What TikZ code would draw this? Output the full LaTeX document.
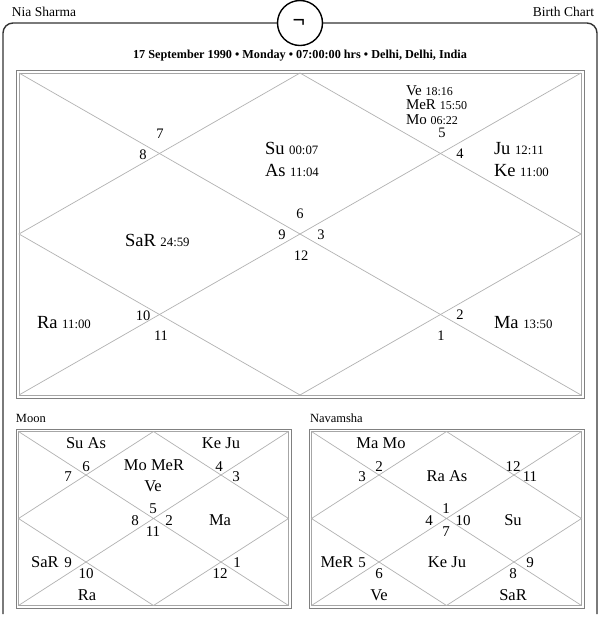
\documentclass[tikz,border=0pt]{standalone}
\usepackage{fontspec}
\setmainfont{Liberation Serif}
\newcommand{\mainpl}[2]{{\fontsize{18.5}{20}\selectfont #1 }{\fontsize{12.8}{14}\selectfont #2}}
\newcommand{\smallpl}[2]{{\fontsize{15}{16}\selectfont #1 }{\fontsize{12}{14}\selectfont #2}}
\begin{document}
\begin{tikzpicture}[x=1pt,y=-1pt,
  every node/.style={inner sep=0pt,outer sep=0pt},
  frameline/.style={draw=black!80,line width=1.4pt,rounded corners=10pt},
  boxout/.style={draw=black!50,line width=0.8pt},
  boxin/.style={draw=black!35,line width=0.8pt},
  chartline/.style={draw=black!30,line width=0.7pt},
  mnum/.style={font=\fontsize{14.5}{16}\selectfont,text height=0.66em,text depth=0pt,anchor=center},
  mpl/.style={anchor=base west},
  lnum/.style={font=\fontsize{15}{16}\selectfont,text height=0.66em,text depth=0pt,anchor=center},
  lpl/.style={font=\fontsize{16.5}{18}\selectfont,text height=0.66em,text depth=0pt,anchor=center},
  ttl/.style={font=\fontsize{13.5}{15}\selectfont,text height=0.66em,text depth=0pt},
  lbl/.style={font=\fontsize{12.5}{14}\selectfont,text height=0.66em,text depth=0pt,anchor=west}
]
\useasboundingbox[fill=white] (0,0) rectangle (600,630);

% outer frame
\draw[frameline] (3,614) -- (3,23) -- (597,23) -- (597,614);
\node[circle,draw=black,line width=1.4pt,fill=white,minimum size=45pt] (logo) at (300,23) {};
\node[font=\fontsize{22}{22}\selectfont\bfseries] (sym) at (299,23) {¬};

\node[ttl,anchor=west] (name) at (12,13) {Nia Sharma};
\node[ttl,anchor=east] (kind) at (594,13) {Birth Chart};
\node[font=\fontsize{12.2}{14}\selectfont\bfseries,text height=0.66em,text depth=0pt] (date) at (300,55)
  {17 September 1990 • Monday • 07:00:00 hrs • Delhi, Delhi, India};

% main chart
\draw[boxout] (16,70) rectangle (584,398);
\draw[boxin] (19,73) rectangle (581,395);
\coordinate (tl) at (19,73); \coordinate (tr) at (581,73);
\coordinate (bl) at (19,395); \coordinate (br) at (581,395);
\coordinate (tm) at (300,73); \coordinate (bm) at (300,395);
\coordinate (lm) at (19,234); \coordinate (rm) at (581,234);
\draw[chartline] (tl) -- (br) (tr) -- (bl);
\draw[chartline] (tm) -- (rm) -- (bm) -- (lm) -- cycle;

\node[mnum] (h7) at (160,135) {7};
\node[mnum] (h8) at (143,156) {8};
\node[mnum] (h5) at (442,134) {5};
\node[mnum] (h4) at (460,155) {4};
\node[mnum] (h6) at (300,215) {6};
\node[mnum] (h9) at (282,236) {9};
\node[mnum] (h3) at (321,236) {3};
\node[mnum] (h12) at (301,257) {12};
\node[mnum] (h10) at (143,317) {10};
\node[mnum] (h11) at (161,337) {11};
\node[mnum] (h2) at (460,316) {2};
\node[mnum] (h1) at (441,337) {1};

\node[mpl] (su) at (265,154) {\mainpl{Su}{00:07}};
\node[mpl] (as) at (265,176) {\mainpl{As}{11:04}};
\node[mpl] (ve) at (406,95) {\smallpl{Ve}{18:16}};
\node[mpl] (mer) at (406,109) {\smallpl{MeR}{15:50}};
\node[mpl] (mo) at (406,124) {\smallpl{Mo}{06:22}};
\node[mpl] (ju) at (494,154) {\mainpl{Ju}{12:11}};
\node[mpl] (ke) at (494,176) {\mainpl{Ke}{11:00}};
\node[mpl] (sar) at (125,246) {\mainpl{SaR}{24:59}};
\node[mpl] (ra) at (37,328) {\mainpl{Ra}{11:00}};
\node[mpl] (ma) at (494,328) {\mainpl{Ma}{13:50}};

% Moon chart
\node[lbl] (moonl) at (16,419) {Moon};
\draw[boxout] (16,429) rectangle (291,608);
\draw[boxin] (18.5,431.5) rectangle (288.5,605.5);
\coordinate (atl) at (18.5,431.5); \coordinate (atr) at (288.5,431.5);
\coordinate (abl) at (18.5,605.5); \coordinate (abr) at (288.5,605.5);
\coordinate (atm) at (153.5,431.5); \coordinate (abm) at (153.5,605.5);
\coordinate (alm) at (18.5,518.5); \coordinate (arm) at (288.5,518.5);
\draw[chartline] (atl) -- (abr) (atr) -- (abl);
\draw[chartline] (atm) -- (arm) -- (abm) -- (alm) -- cycle;

\node[lpl] (a1) at (86,445) {Su As};
\node[lnum] (a2) at (86,468) {6};
\node[lnum] (a3) at (68,478) {7};
\node[lpl] (a4) at (154,467) {Mo MeR};
\node[lpl] (a5) at (153,488) {Ve};
\node[lpl] (a6) at (221,445) {Ke Ju};
\node[lnum] (a7) at (219,468) {4};
\node[lnum] (a8) at (236,478) {3};
\node[lnum] (a9) at (153,510) {5};
\node[lnum] (a10) at (135,522) {8};
\node[lnum] (a11) at (169,522) {2};
\node[lnum] (a12) at (153,533) {11};
\node[lpl] (a13) at (220,522) {Ma};
\node[lpl] (a14) at (45,564) {SaR};
\node[lnum] (a15) at (68,564) {9};
\node[lnum] (a16) at (86,575) {10};
\node[lpl] (a17) at (87,597) {Ra};
\node[lnum] (a18) at (220,575) {12};
\node[lnum] (a19) at (237,564) {1};

% Navamsha chart
\node[lbl] (navl) at (310,419) {Navamsha};
\draw[boxout] (309,429) rectangle (584,608);
\draw[boxin] (311.5,431.5) rectangle (581.5,605.5);
\coordinate (btl) at (311.5,431.5); \coordinate (btr) at (581.5,431.5);
\coordinate (bbl) at (311.5,605.5); \coordinate (bbr) at (581.5,605.5);
\coordinate (btm) at (446.5,431.5); \coordinate (bbm) at (446.5,605.5);
\coordinate (blm) at (311.5,518.5); \coordinate (brm) at (581.5,518.5);
\draw[chartline] (btl) -- (bbr) (btr) -- (bbl);
\draw[chartline] (btm) -- (brm) -- (bbm) -- (blm) -- cycle;

\node[lpl] (b1) at (381,445) {Ma Mo};
\node[lnum] (b2) at (379,468) {2};
\node[lnum] (b3) at (362,478) {3};
\node[lpl] (b4) at (447,478) {Ra As};
\node[lnum] (b5) at (513,468) {12};
\node[lnum] (b6) at (530,478) {11};
\node[lnum] (b7) at (446,510) {1};
\node[lnum] (b8) at (429,522) {4};
\node[lnum] (b9) at (463,522) {10};
\node[lnum] (b10) at (446,533) {7};
\node[lpl] (b11) at (513,522) {Su};
\node[lpl] (b12) at (337,564) {MeR};
\node[lnum] (b13) at (362,564) {5};
\node[lnum] (b14) at (379,575) {6};
\node[lpl] (b15) at (379,597) {Ve};
\node[lpl] (b16) at (447,564) {Ke Ju};
\node[lnum] (b17) at (530,564) {9};
\node[lnum] (b18) at (513,575) {8};
\node[lpl] (b19) at (513,597) {SaR};
\end{tikzpicture}
\end{document}
